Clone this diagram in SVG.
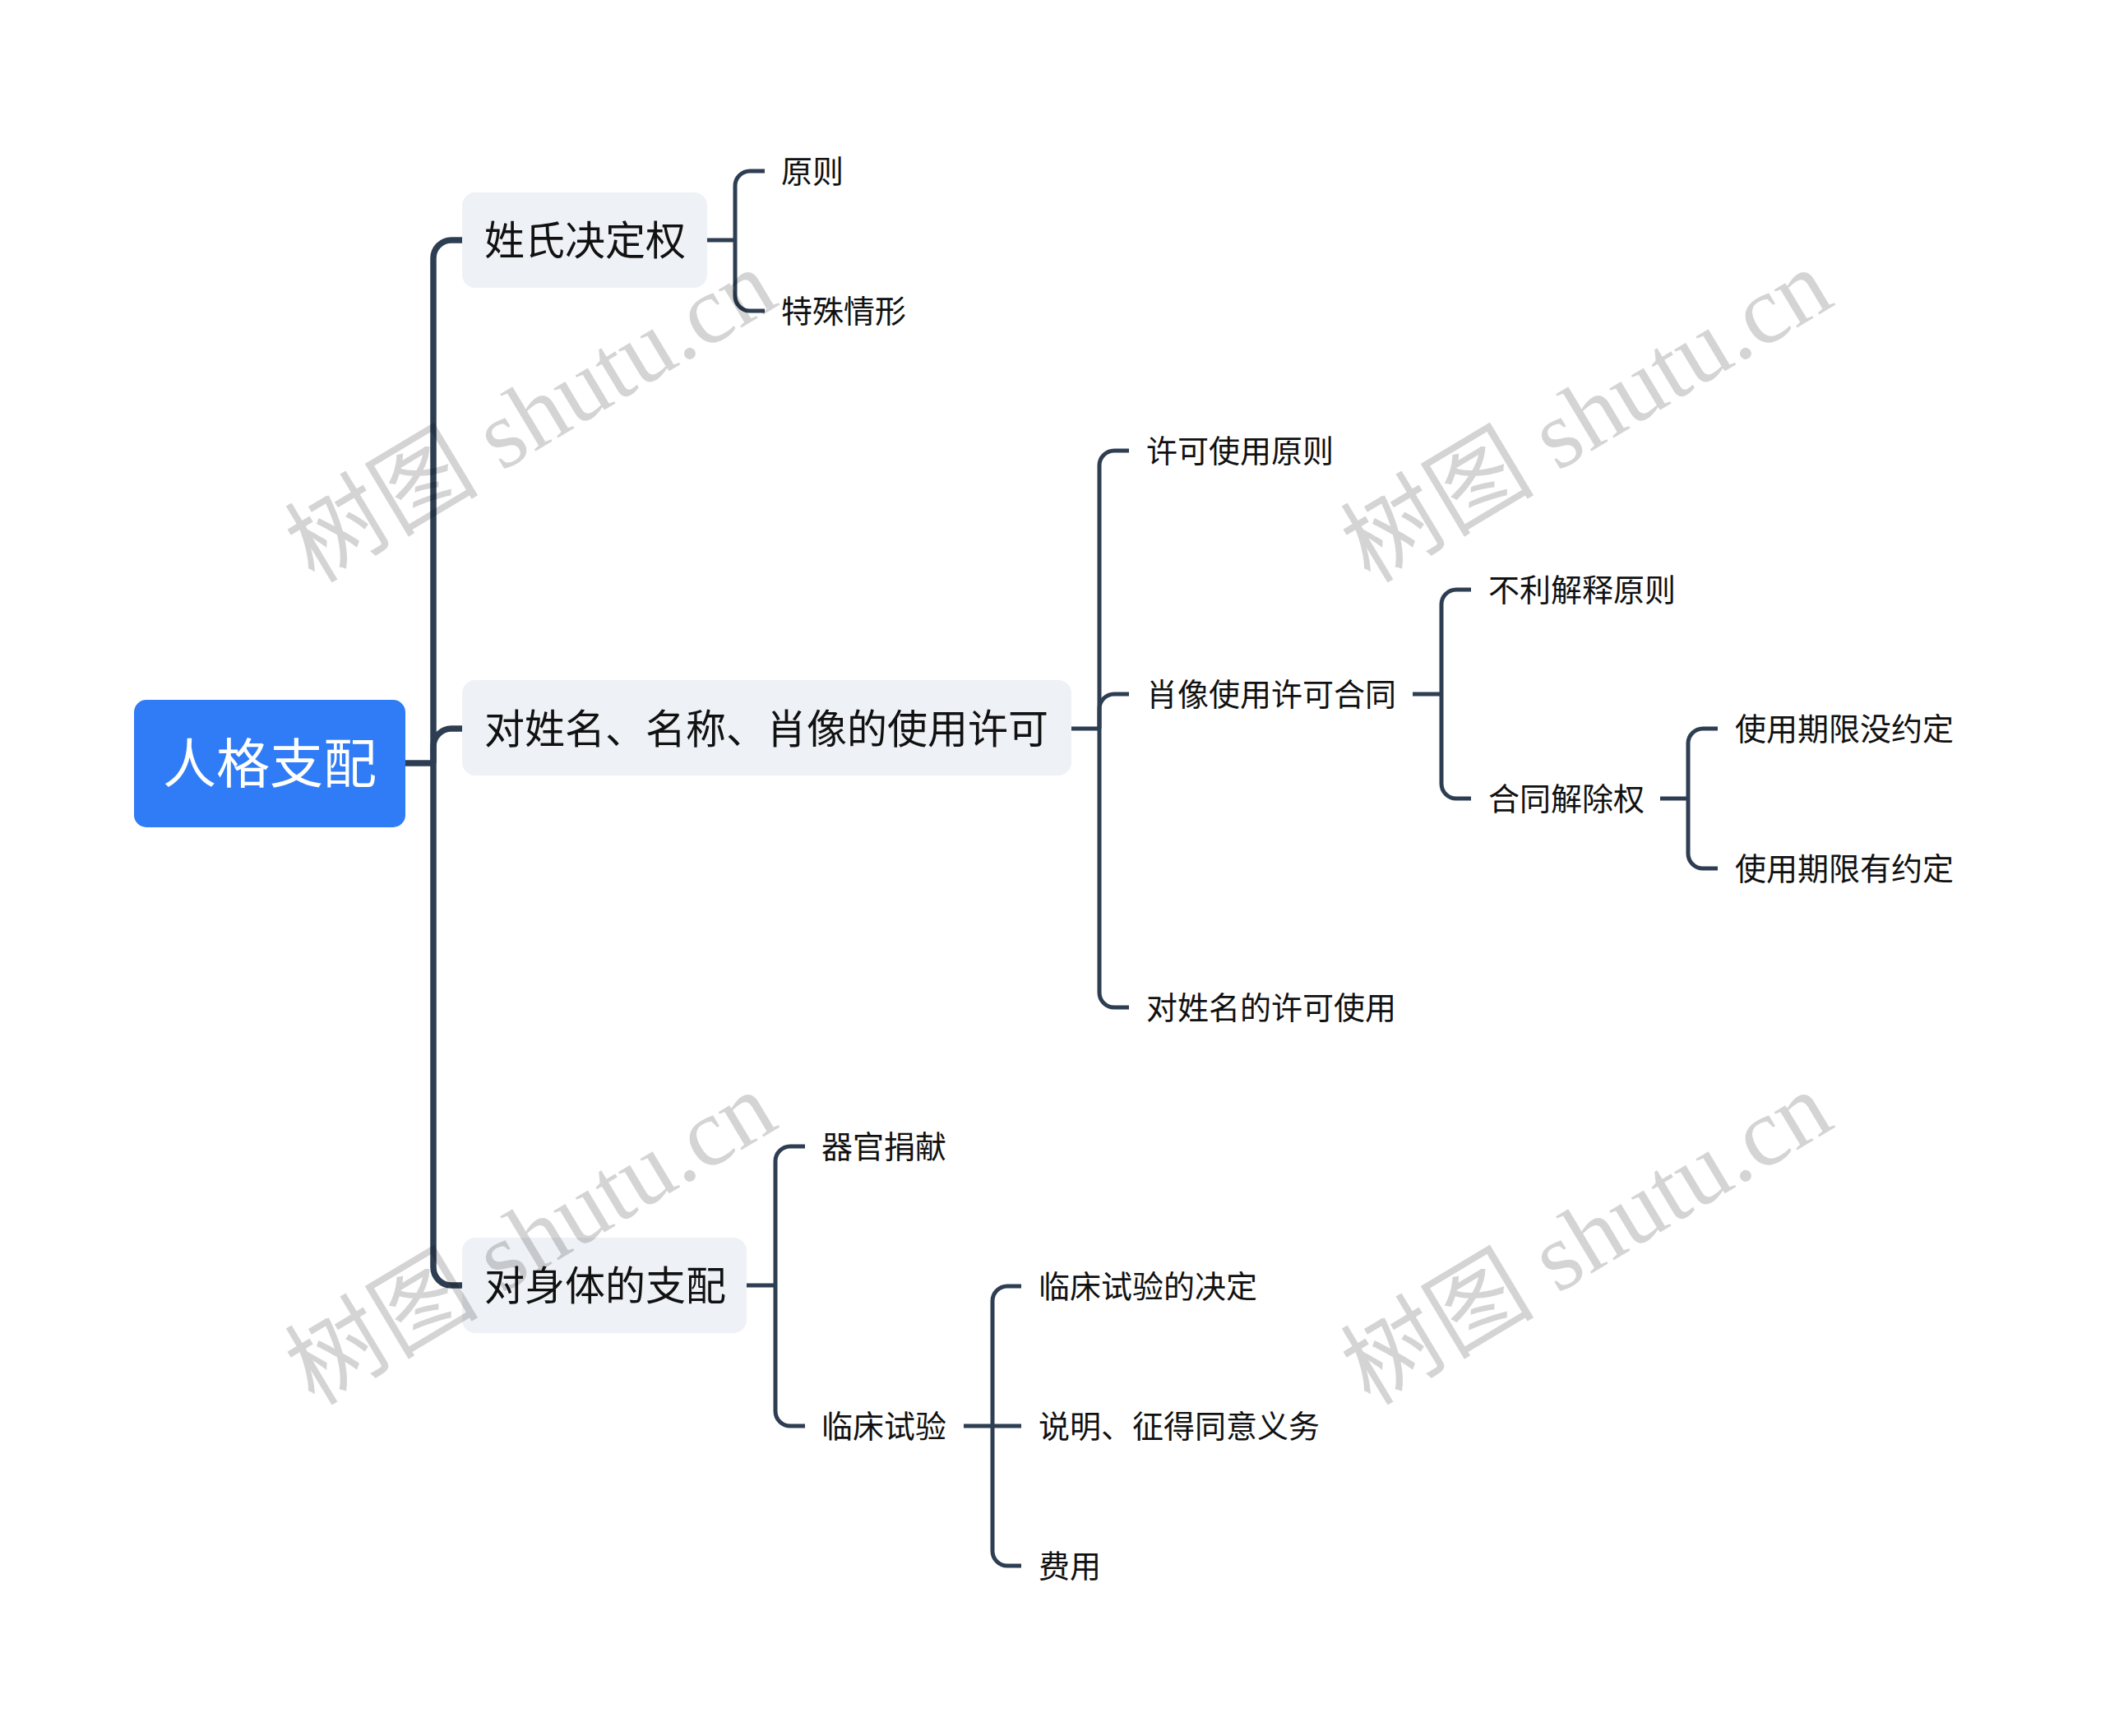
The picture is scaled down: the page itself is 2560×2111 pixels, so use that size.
<svg xmlns="http://www.w3.org/2000/svg" width="2560" height="2111" viewBox="0 0 2560 2111">
<style>
.t{font-family:"Noto Sans CJK SC","Noto Sans",sans-serif;fill:#111}
.l1{font-size:49px}
.l2{font-size:38px}
.root{font-family:"Noto Sans CJK SC","Noto Sans",sans-serif;font-size:65px;fill:#fff}
.box{fill:#eef1f5}
.c{fill:none;stroke:#2e3e52;stroke-linejoin:round}
.c0{stroke-width:7.5}
.c1{stroke-width:5}
.wm{font-family:"Liberation Serif","Noto Sans CJK SC",serif;font-size:118px;fill:#000;fill-opacity:0.17}
</style>
<rect width="2560" height="2111" fill="#fff"/>
<g id="connectors">
<path class="c c0" d="M493,928 H527"/>
<path class="c c0" d="M527,928 V314 A22,22 0 0 1 549,292 H563"/>
<path class="c c0" d="M527,928 V908 A22,22 0 0 1 549,886 H563"/>
<path class="c c0" d="M527,928 V1541 A22,22 0 0 0 549,1563 H563"/>
<path class="c c1" d="M860,292 H894"/>
<path class="c c1" d="M894,292 V226 A18,18 0 0 1 912,208 H930"/>
<path class="c c1" d="M894,292 V360 A18,18 0 0 0 912,378 H930"/>
<path class="c c1" d="M1303,886 H1337"/>
<path class="c c1" d="M1337,886 V566 A18,18 0 0 1 1355,548 H1373"/>
<path class="c c1" d="M1337,886 V862 A18,18 0 0 1 1355,844 H1373"/>
<path class="c c1" d="M1337,886 V1207 A18,18 0 0 0 1355,1225 H1373"/>
<path class="c c1" d="M1718,844 H1753"/>
<path class="c c1" d="M1753,844 V735 A18,18 0 0 1 1771,717 H1789"/>
<path class="c c1" d="M1753,844 V953 A18,18 0 0 0 1771,971 H1789"/>
<path class="c c1" d="M2019,971 H2053"/>
<path class="c c1" d="M2053,971 V904 A18,18 0 0 1 2071,886 H2089"/>
<path class="c c1" d="M2053,971 V1038 A18,18 0 0 0 2071,1056 H2089"/>
<path class="c c1" d="M908,1563 H943"/>
<path class="c c1" d="M943,1563 V1412 A18,18 0 0 1 961,1394 H979"/>
<path class="c c1" d="M943,1563 V1716 A18,18 0 0 0 961,1734 H979"/>
<path class="c c1" d="M1172,1734 H1242"/>
<path class="c c1" d="M1207,1734 V1582 A18,18 0 0 1 1225,1564 H1242"/>
<path class="c c1" d="M1207,1734 V1886 A18,18 0 0 0 1225,1904 H1242"/>
</g>
<g id="n-root">
<rect x="163" y="851" width="330" height="155" rx="15" fill="#2f7cf6"/>
<text class="root" x="328" y="952" text-anchor="middle">人格支配</text>
</g>
<g id="n-xingshi">
<rect class="box" x="562" y="234" width="298" height="116" rx="16"/>
<text class="t l1" x="589" y="310">姓氏决定权</text>
</g>
<g id="n-shiyong">
<rect class="box" x="562" y="827" width="741" height="116" rx="16"/>
<text class="t l1" x="589" y="904">对姓名、名称、肖像的使用许可</text>
</g>
<g id="n-shenti">
<rect class="box" x="562" y="1505" width="346" height="116" rx="16"/>
<text class="t l1" x="589" y="1581">对身体的支配</text>
</g>
<g id="n-yuanze"><text class="t l2" x="950" y="222">原则</text></g>
<g id="n-teshu"><text class="t l2" x="950" y="392">特殊情形</text></g>
<g id="n-xuke"><text class="t l2" x="1394" y="562">许可使用原则</text></g>
<g id="n-xiaoxiang"><text class="t l2" x="1394" y="858">肖像使用许可合同</text></g>
<g id="n-xingming"><text class="t l2" x="1394" y="1239">对姓名的许可使用</text></g>
<g id="n-buli"><text class="t l2" x="1810" y="731">不利解释原则</text></g>
<g id="n-jiechu"><text class="t l2" x="1810" y="985">合同解除权</text></g>
<g id="n-mei"><text class="t l2" x="2110" y="900">使用期限没约定</text></g>
<g id="n-you"><text class="t l2" x="2110" y="1070">使用期限有约定</text></g>
<g id="n-qiguan"><text class="t l2" x="999" y="1408">器官捐献</text></g>
<g id="n-linchuang"><text class="t l2" x="999" y="1748">临床试验</text></g>
<g id="n-jueding"><text class="t l2" x="1263" y="1578">临床试验的决定</text></g>
<g id="n-shuoming"><text class="t l2" x="1263" y="1748">说明、征得同意义务</text></g>
<g id="n-feiyong"><text class="t l2" x="1263" y="1918">费用</text></g>
<g id="watermarks">
<text class="wm" text-anchor="middle" transform="translate(666,540) rotate(-31)">树图 shutu.cn</text>
<text class="wm" text-anchor="middle" transform="translate(1950,540) rotate(-31)">树图 shutu.cn</text>
<text class="wm" text-anchor="middle" transform="translate(666,1540) rotate(-31)">树图 shutu.cn</text>
<text class="wm" text-anchor="middle" transform="translate(1950,1540) rotate(-31)">树图 shutu.cn</text>
</g>
</svg>
